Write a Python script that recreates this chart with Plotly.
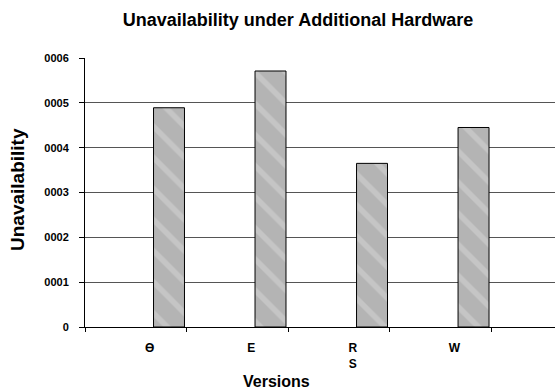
import plotly.graph_objects as go

# Data
versions = ["Ө", "E", "R<br>S", "W"]
unavailability = [0.000489, 0.000571, 0.000365, 0.000445]
y_tick_vals = [0, 0.0001, 0.0002, 0.0003, 0.0004, 0.0005, 0.0006]
y_tick_text = ["0", "0001", "0002", "0003", "0004", "0005", "0006"]

FONT = "Liberation Sans, Arial, sans-serif"

fig = go.Figure()
fig.add_trace(go.Bar(
    x=versions,
    y=unavailability,
    width=0.305,
    offset=0.175,
    marker=dict(
        color="#b8b8b8",
        line=dict(color="#000000", width=1),
        pattern=dict(shape="\\", bgcolor="#b4b4b4", fgcolor="#d6d6d6",
                     size=22, solidity=0.25, fillmode="overlay"),
    ),
    showlegend=False,
))

fig.update_layout(
    width=555,
    height=390,
    margin=dict(l=85, r=0, t=58, b=63),
    paper_bgcolor="white",
    plot_bgcolor="white",
    font=dict(family=FONT, color="#000000"),
    title=dict(
        text="Unavailability under Additional Hardware",
        x=0.537, xref="container", xanchor="center",
        y=1 - 20 / 390, yref="container", yanchor="middle",
        font=dict(size=18, family=FONT, weight="bold"),
    ),
    xaxis=dict(
        type="category",
        categoryorder="array",
        categoryarray=versions,
        range=[-0.5, 4.13],
        showline=True, linecolor="#000000", linewidth=1,
        ticks="outside", tickson="boundaries", ticklen=4,
        tickcolor="#000000",
        showgrid=False,
        tickfont=dict(size=12, family=FONT, weight="bold"),
        ticklabelshift=14,
        ticklabelstandoff=10,
    ),
    yaxis=dict(
        range=[0, 0.0006],
        tickvals=y_tick_vals,
        ticktext=y_tick_text,
        showline=True, linecolor="#000000", linewidth=1,
        ticks="outside", ticklen=5, tickcolor="#000000",
        showgrid=True, gridcolor="#555555", gridwidth=1,
        zeroline=False,
        tickfont=dict(size=11, family=FONT, weight="bold"),
        ticklabelstandoff=8,
    ),
    annotations=[
        dict(text="Unavailability", textangle=-90,
             xref="paper", yref="paper",
             x=(17 - 85) / 470, y=(327 - 190) / 269,
             xanchor="center", yanchor="middle", showarrow=False,
             font=dict(size=19, family=FONT, weight="bold")),
        dict(text="Versions",
             xref="paper", yref="paper",
             x=(276 - 85) / 470, y=(327 - 382) / 269,
             xanchor="center", yanchor="middle", showarrow=False,
             font=dict(size=16, family=FONT, weight="bold")),
    ],
)

fig.write_html("out.html")
